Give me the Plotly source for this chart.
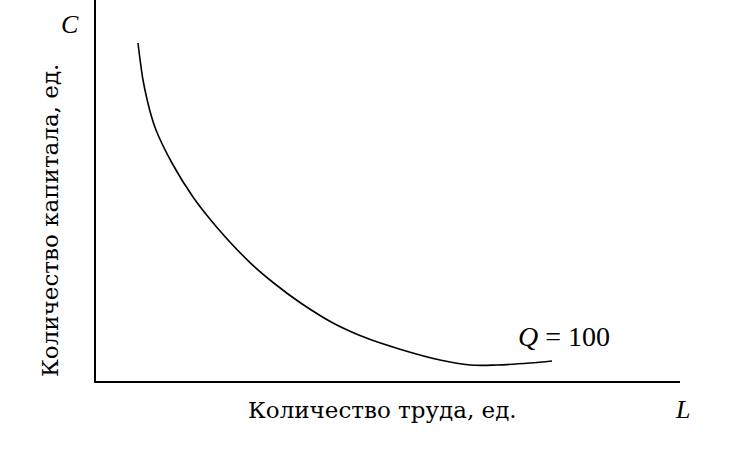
import plotly.graph_objects as go

# Isoquant Q = 100, units: percent of axis range
labor = [7.19, 7.62, 8.05, 8.65, 9.33, 10.27, 13.01, 16.61, 20.72, 26.37, 30.65, 34.93, 40.58, 46.40, 52.05, 58.90, 64.04, 68.66, 74.32, 78.08]
capital = [88.71, 83.46, 79.00, 74.54, 70.34, 65.88, 57.22, 48.29, 40.30, 31.08, 25.46, 20.60, 15.22, 11.20, 8.35, 5.51, 4.20, 4.20, 4.72, 5.25]

x_title = "Количество труда, ед."
y_title = "Количество капитала, ед."
curve_label = "<i>Q</i> = 100"

SERIF = "Liberation Serif, Times New Roman, serif"
WIDE = "DejaVu Serif, serif"

fig = go.Figure()
fig.add_trace(go.Scatter(
    x=labor, y=capital, mode="lines",
    line=dict(color="black", width=1.6, shape="spline", smoothing=1.0),
    hoverinfo="skip", showlegend=False,
))

fig.update_layout(
    width=733, height=476,
    margin=dict(l=96, r=53, t=0, b=95),
    paper_bgcolor="white", plot_bgcolor="white",
    showlegend=False,
    xaxis=dict(range=[0, 100], showline=True, linecolor="black", linewidth=2,
               showgrid=False, zeroline=False, showticklabels=False, ticks=""),
    yaxis=dict(range=[0, 100], showline=True, linecolor="black", linewidth=2,
               showgrid=False, zeroline=False, showticklabels=False, ticks=""),
    font=dict(family=SERIF, color="black"),
)

ann = dict(xref="paper", yref="paper", showarrow=False, xanchor="center", yanchor="middle")
fig.add_annotation(text=x_title, x=0.491, y=-0.076, font=dict(size=23, family=WIDE), **ann)
fig.add_annotation(text=y_title, x=-0.0788, y=0.4226, textangle=-90, font=dict(size=23, family=WIDE), **ann)
fig.add_annotation(text="<i>C</i>", x=-0.0445, y=0.937, font=dict(size=26, family=SERIF), **ann)
fig.add_annotation(text="<i>L</i>", x=1.005, y=-0.0735, font=dict(size=26, family=SERIF), **ann)
fig.add_annotation(text=curve_label, x=0.801, y=0.1155, font=dict(size=28, family=SERIF), **ann)

fig.write_html("out.html", config={"displayModeBar": False},
               post_script="document.body.style.margin='0';")
